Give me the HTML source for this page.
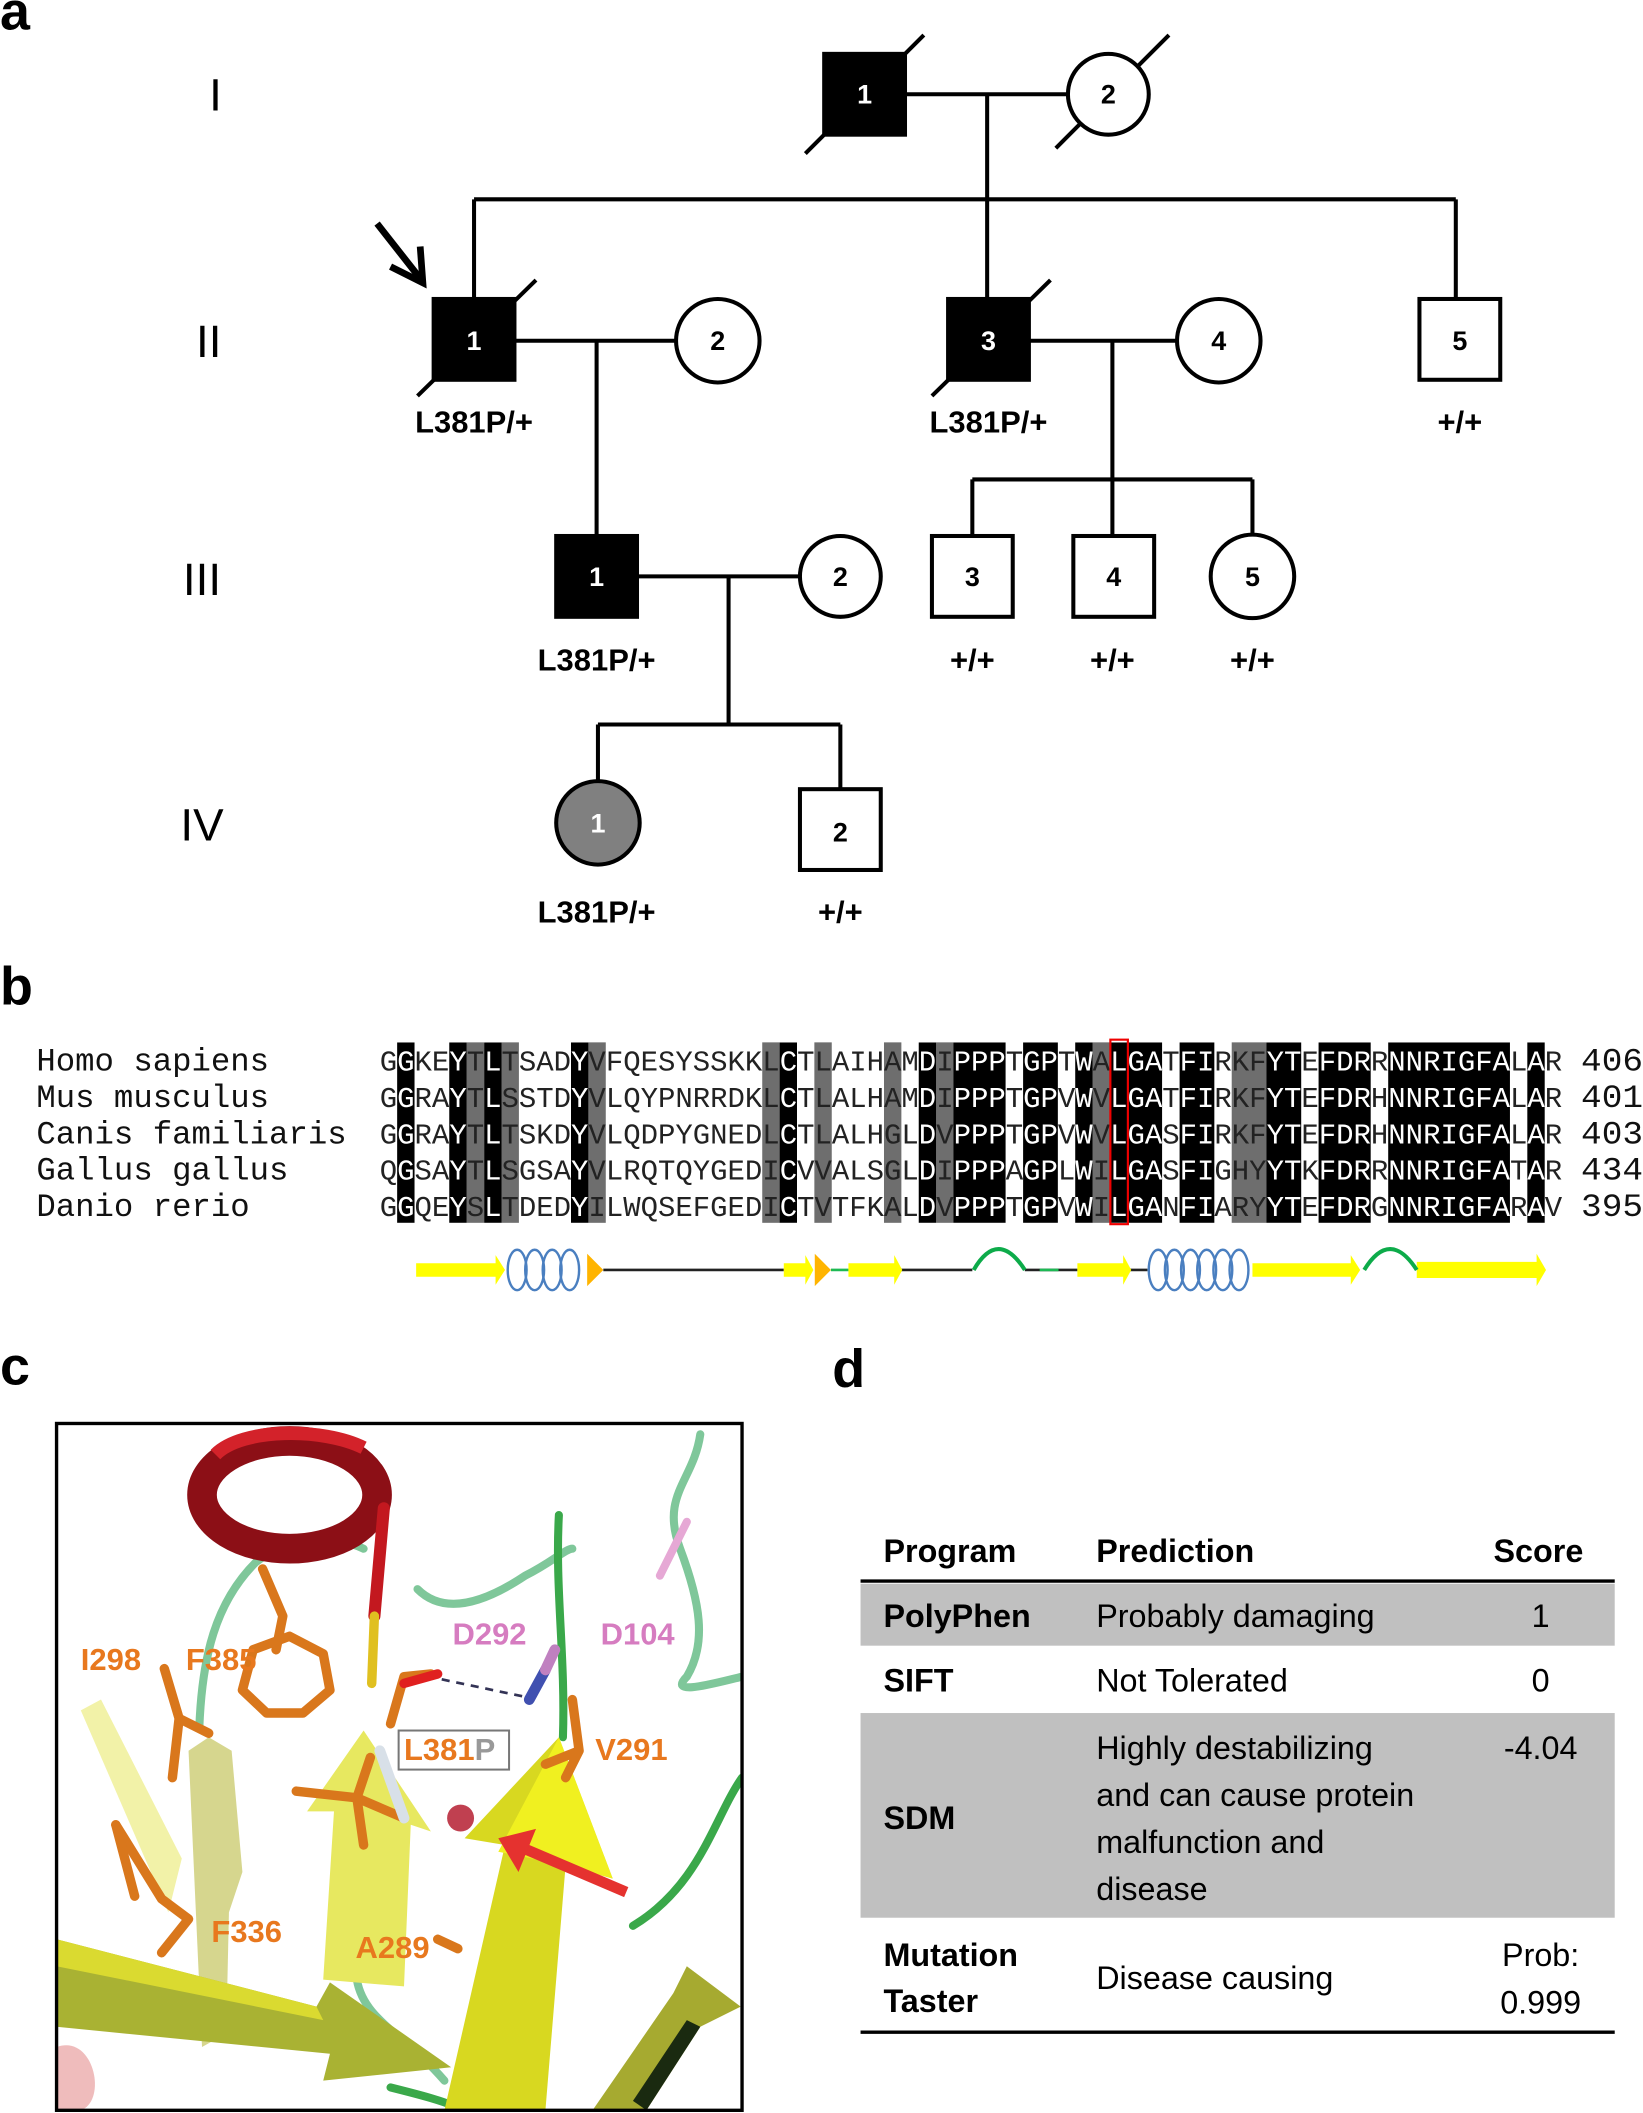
<!DOCTYPE html>
<html><head><meta charset="utf-8"><style>
html,body{margin:0;padding:0;background:#fff}
svg{display:block}
text{font-family:"Liberation Sans",Arial,sans-serif}
.m, .m text{font-family:"Liberation Mono","DejaVu Sans Mono",monospace}
</style></head><body>
<svg width="1643" height="2113" viewBox="0 0 1220 1569" preserveAspectRatio="none" xmlns="http://www.w3.org/2000/svg">
<rect width="1220" height="1569" fill="#fff"/>
<!-- Panel a -->
<text x="0" y="22" font-size="40" font-weight="bold">a</text>
<g font-size="34" text-anchor="middle">
<text x="160" y="82">I</text><text x="155" y="265">II</text><text x="150" y="442">III</text><text x="150" y="624">IV</text>
</g>
<g stroke="#000" stroke-width="3" fill="none">
<line x1="672" y1="70" x2="793" y2="70"/><line x1="733" y1="70" x2="733" y2="148"/>
<line x1="352" y1="148" x2="1081" y2="148"/>
<line x1="352" y1="148" x2="352" y2="222"/><line x1="733" y1="148" x2="733" y2="222"/><line x1="1081" y1="148" x2="1081" y2="222"/>
<line x1="382" y1="253" x2="502" y2="253"/><line x1="443" y1="253" x2="443" y2="398"/>
<line x1="764" y1="253" x2="874" y2="253"/><line x1="826" y1="253" x2="826" y2="398"/>
<line x1="722" y1="356" x2="930" y2="356"/><line x1="722" y1="356" x2="722" y2="398"/><line x1="930" y1="356" x2="930" y2="397"/>
<line x1="473" y1="428" x2="594" y2="428"/><line x1="541" y1="428" x2="541" y2="538"/>
<line x1="444" y1="538" x2="624" y2="538"/><line x1="444" y1="538" x2="444" y2="580"/><line x1="624" y1="538" x2="624" y2="586"/>
<line x1="598" y1="114" x2="686" y2="26"/><line x1="784" y1="110" x2="868" y2="26"/>
<line x1="310" y1="294" x2="398" y2="208"/><line x1="692" y1="294" x2="780" y2="208"/>
<line x1="280" y1="166" x2="313" y2="208" stroke-width="5"/>
<polyline points="290,198 314,210 312,183" stroke-width="5"/>
</g>
<g stroke="#000" stroke-width="3">
<rect x="612" y="40" width="60" height="60" fill="#000"/>
<circle cx="823" cy="70" r="30" fill="#fff"/>
<rect x="322" y="222" width="60" height="60" fill="#000"/>
<circle cx="533" cy="253" r="31" fill="#fff"/>
<rect x="704" y="222" width="60" height="60" fill="#000"/>
<circle cx="905" cy="253" r="31" fill="#fff"/>
<rect x="1054" y="222" width="60" height="60" fill="#fff"/>
<rect x="413" y="398" width="60" height="60" fill="#000"/>
<circle cx="624" cy="428" r="30" fill="#fff"/>
<rect x="692" y="398" width="60" height="60" fill="#fff"/>
<rect x="797" y="398" width="60" height="60" fill="#fff"/>
<circle cx="930" cy="428" r="31" fill="#fff"/>
<circle cx="444" cy="611" r="31" fill="#808080"/>
<rect x="594" y="586" width="60" height="60" fill="#fff"/>
</g>
<g font-size="20" font-weight="bold" text-anchor="middle">
<text x="642" y="77" fill="#fff">1</text><text x="823" y="77">2</text>
<text x="352" y="260" fill="#fff">1</text><text x="533" y="260">2</text>
<text x="734" y="260" fill="#fff">3</text><text x="905" y="260">4</text><text x="1084" y="260">5</text>
<text x="443" y="435" fill="#fff">1</text><text x="624" y="435">2</text>
<text x="722" y="435">3</text><text x="827" y="435">4</text><text x="930" y="435">5</text>
<text x="444" y="618" fill="#fff">1</text><text x="624" y="625">2</text>
</g>
<g font-size="23" font-weight="bold" text-anchor="middle">
<text x="352" y="321">L381P/+</text><text x="734" y="321">L381P/+</text><text x="1084" y="321">+/+</text>
<text x="443" y="498">L381P/+</text><text x="722" y="498">+/+</text><text x="826" y="498">+/+</text><text x="930" y="498">+/+</text>
<text x="443" y="685">L381P/+</text><text x="624" y="685">+/+</text>
</g>

<!-- Panel b -->
<text x="0" y="746" font-size="40" font-weight="bold">b</text>
<defs>
<clipPath id="blk">
<rect x="294.9" y="774" width="12.91" height="134"/>
<rect x="333.6" y="774" width="12.91" height="134"/>
<rect x="359.5" y="774" width="12.91" height="134"/>
<rect x="424" y="774" width="12.91" height="134"/>
<rect x="578.9" y="774" width="12.91" height="134"/>
<rect x="682.2" y="774" width="12.91" height="134"/>
<rect x="708" y="774" width="38.7" height="134"/>
<rect x="759.7" y="774" width="25.8" height="134"/>
<rect x="798.4" y="774" width="12.91" height="134"/>
<rect x="824.2" y="774" width="38.7" height="134"/>
<rect x="875.9" y="774" width="25.8" height="134"/>
<rect x="940.4" y="774" width="25.8" height="134"/>
<rect x="979.1" y="774" width="38.7" height="134"/>
<rect x="1030.8" y="774" width="90.4" height="134"/>
<rect x="1134.1" y="774" width="12.91" height="134"/>
</clipPath>
</defs>
<g fill="#6e6e6e">
<rect x="346.5" y="774" width="12.91" height="134"/>
<rect x="372.4" y="774" width="12.91" height="134"/>
<rect x="436.9" y="774" width="12.91" height="134"/>
<rect x="566" y="774" width="12.91" height="134"/>
<rect x="604.7" y="774" width="12.91" height="134"/>
<rect x="656.4" y="774" width="12.91" height="134"/>
<rect x="695.1" y="774" width="12.91" height="134"/>
<rect x="811.3" y="774" width="12.91" height="134"/>
<rect x="914.6" y="774" width="25.8" height="134"/>
</g>
<g fill="#000" clip-path="url(#blk)"><rect x="280" y="770" width="880" height="140"/></g>
<g class="m" font-size="24" fill="#111">
<text x="27" y="795">Homo sapiens</text>
<text x="27" y="822">Mus musculus</text>
<text x="27" y="849">Canis familiaris</text>
<text x="27" y="876">Gallus gallus</text>
<text x="27" y="903">Danio rerio</text>
<text x="1174" y="795" textLength="46" lengthAdjust="spacingAndGlyphs">406</text>
<text x="1174" y="822" textLength="46" lengthAdjust="spacingAndGlyphs">401</text>
<text x="1174" y="849" textLength="46" lengthAdjust="spacingAndGlyphs">403</text>
<text x="1174" y="876" textLength="46" lengthAdjust="spacingAndGlyphs">434</text>
<text x="1174" y="903" textLength="46" lengthAdjust="spacingAndGlyphs">395</text>
</g>
<g class="m" font-size="21" fill="#222">
<text x="282" y="795" textLength="878" lengthAdjust="spacingAndGlyphs">GGKEYTLTSADYVFQESYSSKKLCTLAIHAMDIPPPTGPTWALGATFIRKFYTEFDRRNNRIGFALAR</text>
<text x="282" y="822" textLength="878" lengthAdjust="spacingAndGlyphs">GGRAYTLSSTDYVLQYPNRRDKLCTLALHAMDIPPPTGPVWVLGATFIRKFYTEFDRHNNRIGFALAR</text>
<text x="282" y="849" textLength="878" lengthAdjust="spacingAndGlyphs">GGRAYTLTSKDYVLQDPYGNEDLCTLALHGLDVPPPTGPVWVLGASFIRKFYTEFDRHNNRIGFALAR</text>
<text x="282" y="876" textLength="878" lengthAdjust="spacingAndGlyphs">QGSAYTLSGSAYVLRQTQYGEDICVVALSGLDIPPPAGPLWILGASFIGHYYTKFDRRNNRIGFATAR</text>
<text x="282" y="903" textLength="878" lengthAdjust="spacingAndGlyphs">GGQEYSLTDEDYILWQSEFGEDICTVTFKALDVPPPTGPVWILGANFIARYYTEFDRGNNRIGFARAV</text>
</g>
<g clip-path="url(#blk)" class="m" font-size="21" fill="#fff">
<text x="282" y="795" textLength="878" lengthAdjust="spacingAndGlyphs">GGKEYTLTSADYVFQESYSSKKLCTLAIHAMDIPPPTGPTWALGATFIRKFYTEFDRRNNRIGFALAR</text>
<text x="282" y="822" textLength="878" lengthAdjust="spacingAndGlyphs">GGRAYTLSSTDYVLQYPNRRDKLCTLALHAMDIPPPTGPVWVLGATFIRKFYTEFDRHNNRIGFALAR</text>
<text x="282" y="849" textLength="878" lengthAdjust="spacingAndGlyphs">GGRAYTLTSKDYVLQDPYGNEDLCTLALHGLDVPPPTGPVWVLGASFIRKFYTEFDRHNNRIGFALAR</text>
<text x="282" y="876" textLength="878" lengthAdjust="spacingAndGlyphs">QGSAYTLSGSAYVLRQTQYGEDICVVALSGLDIPPPAGPLWILGASFIGHYYTKFDRRNNRIGFATAR</text>
<text x="282" y="903" textLength="878" lengthAdjust="spacingAndGlyphs">GGQEYSLTDEDYILWQSEFGEDICTVTFKALDVPPPTGPVWILGANFIARYYTEFDRGNNRIGFARAV</text>
</g>
<rect x="824.5" y="772" width="13" height="137" fill="none" stroke="#e00" stroke-width="1.6"/>
<g>
<line x1="448" y1="943" x2="582" y2="943" stroke="#222" stroke-width="2"/>
<line x1="669" y1="943" x2="722" y2="943" stroke="#222" stroke-width="2"/>
<line x1="761" y1="943" x2="800" y2="943" stroke="#222" stroke-width="2"/>
<line x1="772" y1="943" x2="786" y2="943" stroke="#1db954" stroke-width="2"/>
<line x1="839" y1="943" x2="852" y2="943" stroke="#222" stroke-width="2"/>
<line x1="617" y1="943" x2="630" y2="943" stroke="#1db954" stroke-width="2"/>
<g fill="#ffff00">
<polygon points="309,938 368,938 368,932 375,943 368,954 368,948 309,948"/>
<polygon points="582,938 598,938 598,932 604,943 598,954 598,948 582,948"/>
<polygon points="630,938 664,938 664,932 670,943 664,954 664,948 630,948"/>
<polygon points="800,938 834,938 834,932 840,943 834,954 834,948 800,948"/>
<polygon points="930,938 1003,938 1003,932 1010,943 1003,954 1003,948 930,948"/>
<polygon points="1052,937 1141,937 1141,931 1148,943 1141,955 1141,949 1052,949"/>
</g>
<g fill="#ffb400">
<polygon points="436,931 448,943 436,955"/>
<polygon points="605,931 617,943 605,955"/>
</g>
<g fill="none" stroke="#0dab4a" stroke-width="3">
<path d="M723,943 Q741,912 761,943"/>
<path d="M1013,943 Q1032,912 1052,943"/>
</g>
<g fill="none" stroke="#4a7fc0" stroke-width="1.8">
<ellipse cx="384" cy="943" rx="7" ry="15"/><ellipse cx="397" cy="943" rx="7" ry="15"/><ellipse cx="410" cy="943" rx="7" ry="15"/><ellipse cx="423" cy="943" rx="7" ry="15"/>
<ellipse cx="860" cy="943" rx="7" ry="15"/><ellipse cx="872" cy="943" rx="7" ry="15"/><ellipse cx="884" cy="943" rx="7" ry="15"/><ellipse cx="896" cy="943" rx="7" ry="15"/><ellipse cx="908" cy="943" rx="7" ry="15"/><ellipse cx="920" cy="943" rx="7" ry="15"/>
</g>
</g>

<!-- Panel c -->
<text x="0" y="1028" font-size="40" font-weight="bold">c</text>
<text x="618" y="1030" font-size="40" font-weight="bold">d</text>
<svg x="42" y="1057" width="509" height="510" viewBox="42 1057 509 510">
<rect x="42" y="1057" width="509" height="510" fill="#fff"/>
<g fill="none" stroke="#7fc79a" stroke-width="6" stroke-linecap="round">
<path d="M148,1283 C150,1230 160,1190 190,1160 C215,1140 250,1140 270,1150"/>
<path d="M310,1180 C330,1200 360,1190 390,1170 C410,1160 420,1150 425,1150"/>
<path d="M520,1065 C515,1100 490,1110 505,1150 C520,1190 525,1220 510,1245 C495,1260 530,1250 551,1245"/>
<path d="M265,1470 C270,1500 300,1510 330,1545"/>
</g>
<g fill="none" stroke="#3aa84a" stroke-width="6" stroke-linecap="round">
<path d="M415,1125 C412,1180 420,1230 418,1290"/>
<path d="M551,1320 C530,1350 520,1400 470,1430"/>
<path d="M290,1550 C310,1555 330,1560 345,1567"/>
</g>
<path d="M510,1130 L490,1170" stroke="#e6a8d5" stroke-width="6" stroke-linecap="round"/>
<ellipse cx="215" cy="1110" rx="65" ry="40" fill="none" stroke="#8c0f16" stroke-width="22"/>
<path d="M160,1080 C180,1060 240,1060 270,1075" fill="none" stroke="#d3222a" stroke-width="10"/>
<path d="M285,1120 L278,1200" stroke="#c3181f" stroke-width="9" stroke-linecap="round"/>
<path d="M278,1200 L276,1250" stroke="#e0c020" stroke-width="7" stroke-linecap="round"/>
<!-- sheets -->
<polygon points="60,1270 75,1262 135,1380 125,1420" fill="#f2f2a8"/>
<polygon points="140,1300 155,1290 172,1300 180,1390 170,1420 168,1510 150,1520 145,1410" fill="#cfcf7a" opacity="0.85"/>
<polygon points="42,1440 235,1490 245,1472 335,1535 240,1545 245,1525 42,1505" fill="#a9b233"/>
<polygon points="42,1440 235,1490 240,1500 42,1460" fill="#dada30"/>
<polygon points="270,1285 228,1345 248,1345 240,1470 300,1475 305,1355 320,1360" fill="#e7e860"/>
<polygon points="415,1290 345,1365 375,1370 330,1567 405,1567 420,1385 455,1395" fill="#d8d820"/>
<polygon points="370,1375 415,1290 455,1395 420,1385" fill="#f0f020"/>
<polygon points="440,1567 500,1480 510,1460 550,1490 520,1505 480,1567" fill="#a6aa30"/>
<polygon points="470,1560 510,1500 520,1505 480,1567" fill="#1a2a10"/>
<path d="M42,1520 C70,1510 80,1560 60,1567 L42,1567Z" fill="#e8a0a0" opacity="0.7"/>
<g fill="none" stroke="#d9771c" stroke-width="7" stroke-linecap="round" stroke-linejoin="round">
<path d="M122,1239 L133,1276 L128,1320"/>
<path d="M133,1276 L155,1287"/>
<path d="M195,1165 L210,1200 L205,1225"/>
<path d="M180,1255 L188,1225 L215,1215 L240,1228 L245,1255 L225,1272 L198,1272 Z"/>
<path d="M86,1355 L120,1410 L140,1425 L120,1450"/>
<path d="M86,1355 L100,1408"/>
<path d="M220,1330 L265,1335 L275,1305 M265,1335 L270,1370 M265,1335 L300,1350"/>
<path d="M425,1262 L430,1300 L420,1320 M430,1300 L405,1310"/>
<path d="M290,1280 L300,1245 L320,1243"/>
<path d="M325,1440 L340,1447"/>
</g>
<line x1="300" y1="1250" x2="325" y2="1243" stroke="#e02020" stroke-width="7" stroke-linecap="round"/>
<path d="M282,1300 L300,1350" stroke="#d8e0e8" stroke-width="8" stroke-linecap="round"/>
<line x1="328" y1="1247" x2="390" y2="1260" stroke="#335" stroke-width="2" stroke-dasharray="6,5"/>
<path d="M393,1262 L405,1240" stroke="#4050b0" stroke-width="8" stroke-linecap="round"/>
<path d="M405,1240 L412,1225" stroke="#c080c0" stroke-width="8" stroke-linecap="round"/>
<circle cx="342" cy="1350" r="10" fill="#c04050"/>
<line x1="465" y1="1405" x2="390" y2="1373" stroke="#e5322f" stroke-width="8"/>
<polygon points="370,1365 398,1358 385,1390" fill="#e5322f"/>
<g font-size="23" font-weight="bold" fill="#e8781e">
<text x="60" y="1240">I298</text><text x="138" y="1240">F385</text>
<text x="442" y="1307">V291</text><text x="157" y="1442">F336</text><text x="264" y="1454">A289</text>
<text x="300" y="1307">L381<tspan fill="#999">P</tspan></text>
</g>
<rect x="296" y="1285" width="82" height="29" fill="none" stroke="#777" stroke-width="1.5"/>
<g font-size="23" font-weight="bold" fill="#d67cc0">
<text x="336" y="1221">D292</text><text x="446" y="1221">D104</text>
</g>
</svg>
<rect x="42" y="1057" width="509" height="510" fill="none" stroke="#000" stroke-width="2.5"/>

<!-- Panel d -->
<rect x="639" y="1176" width="560" height="46" fill="#c0c0c0"/>
<rect x="639" y="1272" width="560" height="152" fill="#c0c0c0"/>
<line x1="639" y1="1174" x2="1199" y2="1174" stroke="#000" stroke-width="2.5"/>
<line x1="639" y1="1509" x2="1199" y2="1509" stroke="#000" stroke-width="2.5"/>
<g font-size="24" font-weight="bold">
<text x="656" y="1160">Program</text><text x="814" y="1160">Prediction</text><text x="1109" y="1160">Score</text>
<text x="656" y="1208">PolyPhen</text><text x="656" y="1256">SIFT</text><text x="656" y="1358">SDM</text>
<text x="656" y="1460">Mutation</text><text x="656" y="1494">Taster</text>
</g>
<g font-size="24">
<text x="814" y="1208">Probably damaging</text>
<text x="814" y="1256">Not Tolerated</text>
<text x="814" y="1306">Highly destabilizing</text>
<text x="814" y="1341">and can cause protein</text>
<text x="814" y="1376">malfunction and</text>
<text x="814" y="1411">disease</text>
<text x="814" y="1477">Disease causing</text>
</g>
<g font-size="24" text-anchor="middle">
<text x="1144" y="1208">1</text><text x="1144" y="1256">0</text><text x="1144" y="1306">-4.04</text>
<text x="1144" y="1460">Prob:</text><text x="1144" y="1495">0.999</text>
</g>
</svg>
</body></html>
